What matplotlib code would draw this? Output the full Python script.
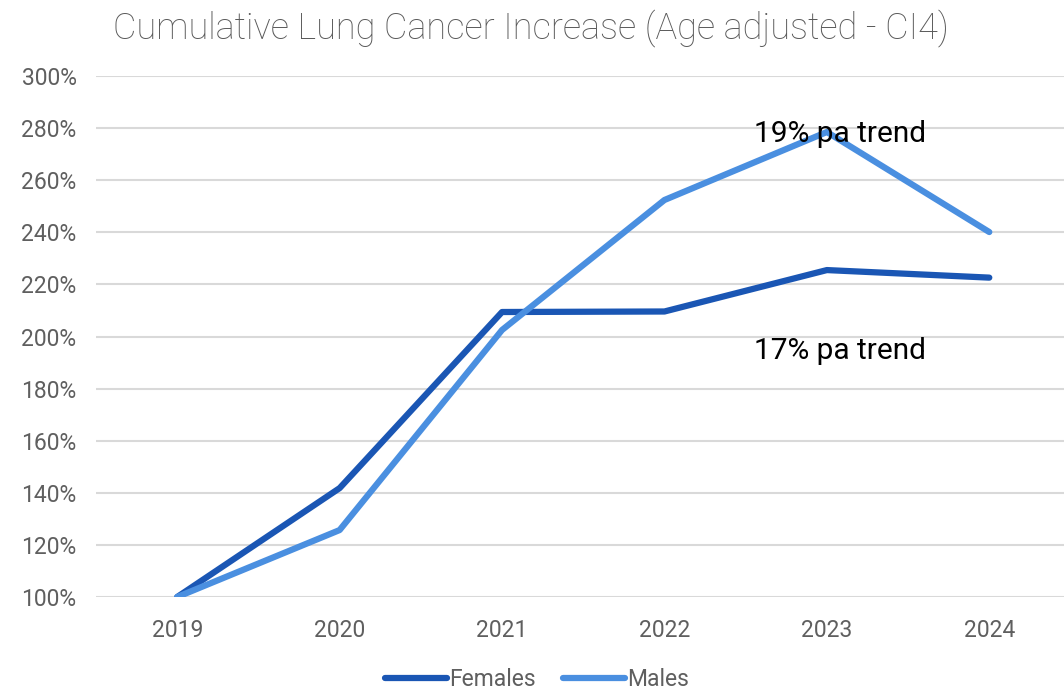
import numpy as np
import matplotlib.pyplot as plt
from matplotlib.ticker import FuncFormatter

years = ['2019', '2020', '2021', '2022', '2023', '2024']
females = [100, 141.8, 209.4, 209.6, 225.5, 222.6]
males = [100, 125.7, 202.5, 252.4, 278.5, 240.1]
yticks = list(range(100, 301, 20))

fig = plt.figure(figsize=(10.64, 6.91), dpi=100)
ax = fig.add_axes([96/1064, 1 - 597/691, (1064-96)/1064, (597-76)/691])

x = np.arange(len(years))
ax.plot(x, females, color='#1a56b4', lw=4.5, label='Females', solid_capstyle='round', solid_joinstyle='round')
ax.plot(x, males, color='#4a8fe0', lw=4.5, label='Males', solid_capstyle='round', solid_joinstyle='round')

ax.set_ylim(100, 300)
ax.set_xlim(-0.5, 5.46)
ax.set_yticks(yticks)
ax.yaxis.set_major_formatter(FuncFormatter(lambda v, p: '%d%%' % v))
ax.set_xticks(x)
ax.set_xticklabels(years)
ax.grid(axis='y', color='#d9d9d9', lw=1.5)
ax.set_axisbelow(True)
for s in ax.spines.values():
    s.set_visible(False)
ax.tick_params(length=0, labelsize=16.5, labelcolor='#5f5f5f', pad=16)
ax.tick_params(axis='y', pad=14)
for lbl in ax.get_xticklabels() + ax.get_yticklabels():
    lbl.set_family('Roboto')

ax.text(4.08, 277.7, '19% pa trend', fontsize=21.5, family='Roboto', ha='center', va='center', color='black')
ax.text(4.08, 194.4, '17% pa trend', fontsize=21.5, family='Roboto', ha='center', va='center', color='black')

fig.text(113/1064, 1 - 28/691, 'Cumulative Lung Cancer Increase (Age adjusted - CI4)', fontsize=26,
         family='Roboto', fontweight='light', color='#595959', va='center', ha='left')

leg = fig.legend(loc='center', bbox_to_anchor=(537/1064, 1 - 680/691), ncol=2, frameon=False,
                 prop={'family': 'Roboto', 'size': 16.5}, handlelength=2.7,
                 handletextpad=0.1, columnspacing=1.2)
for t in leg.get_texts():
    t.set_color('#5f5f5f')

fig.savefig('out.png', dpi=100)
